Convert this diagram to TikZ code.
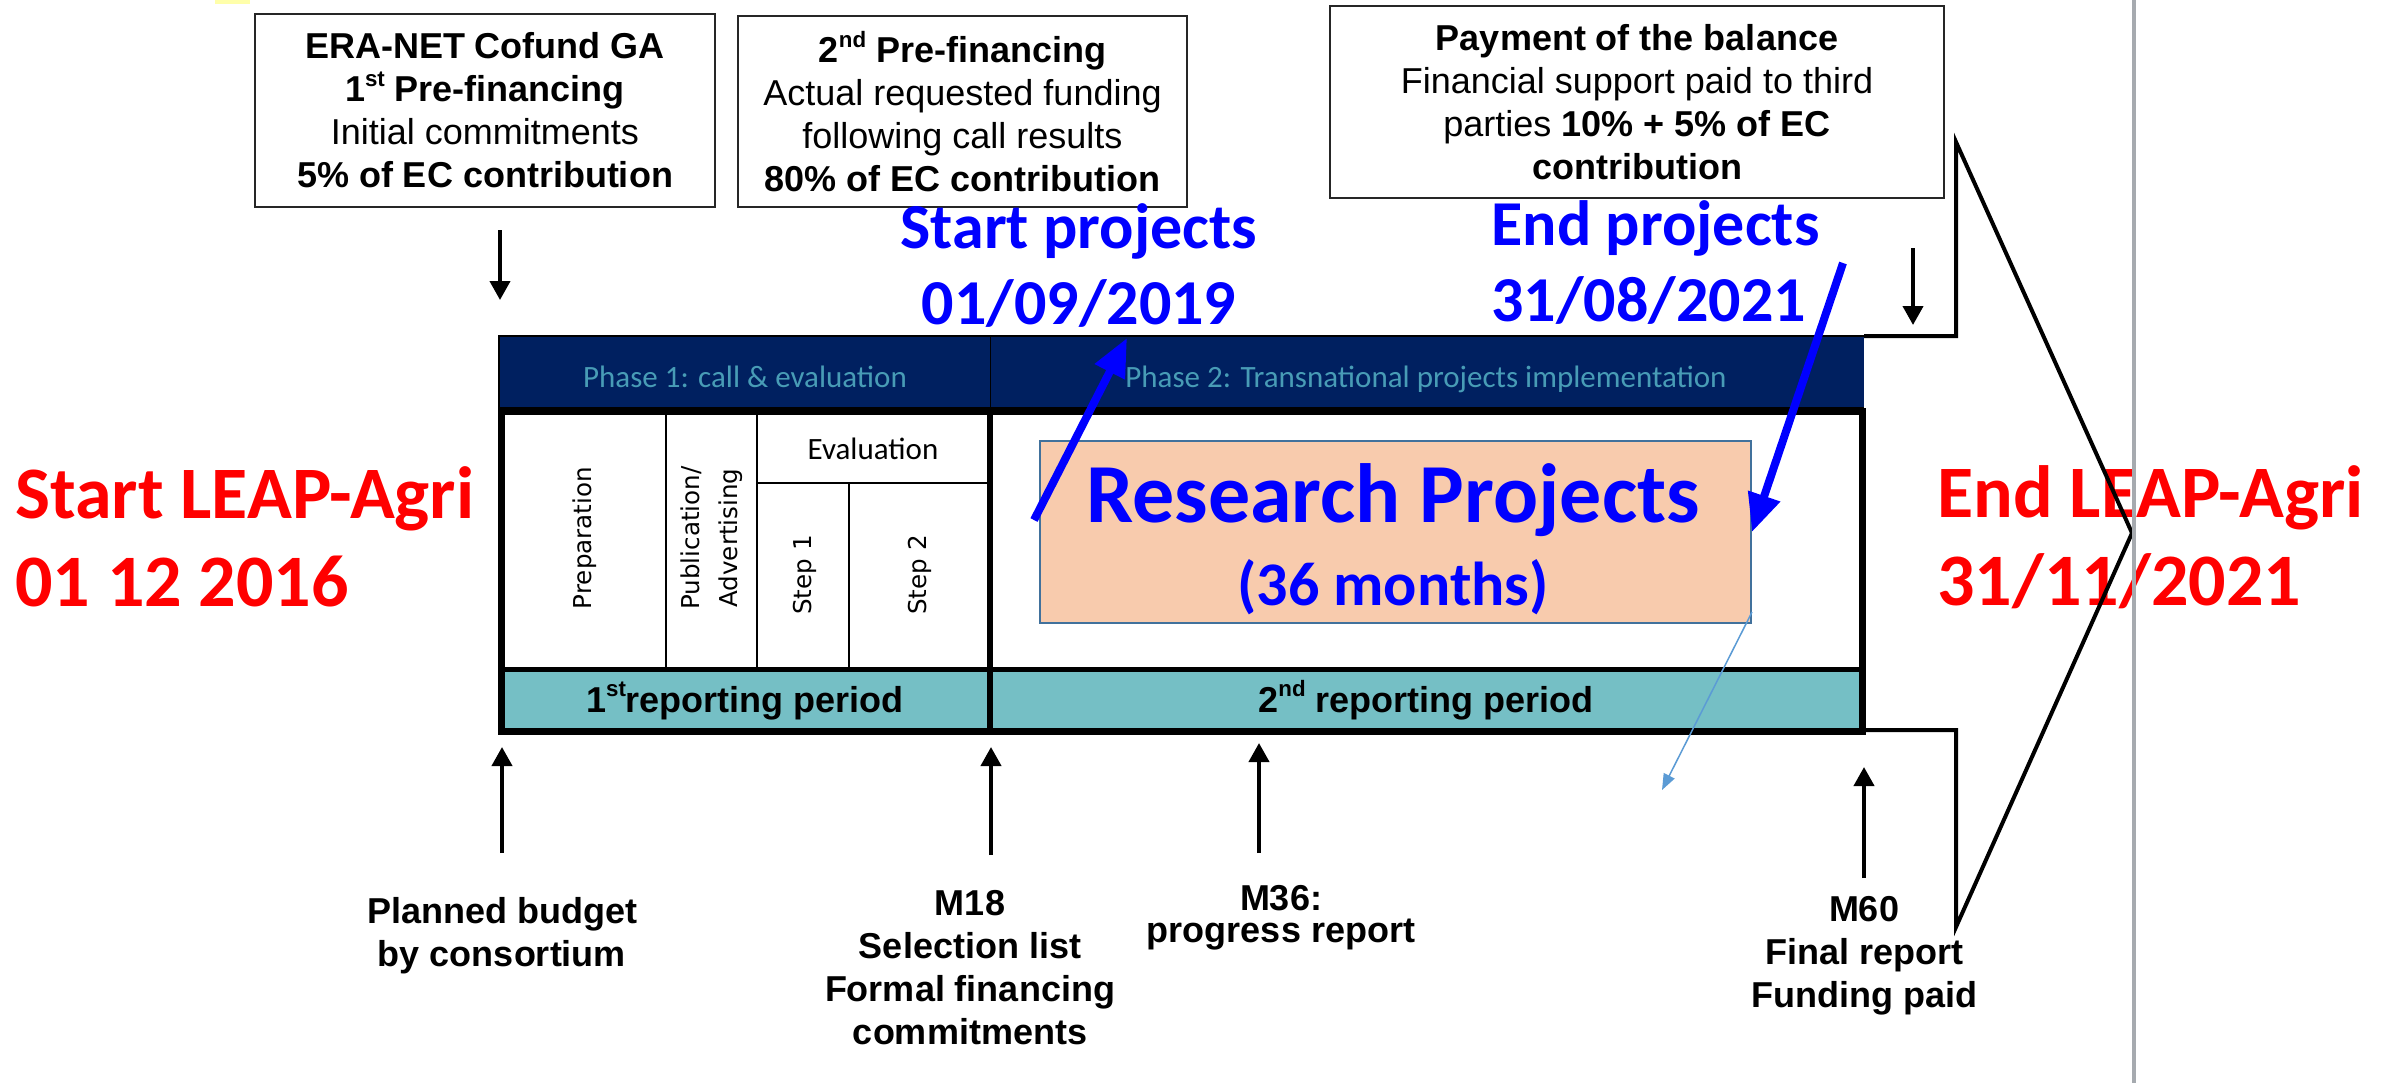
\documentclass[tikz,border=0pt]{standalone}
\usepackage{fontspec}
\setmainfont{Liberation Sans}
\newfontfamily\calfont{Carlito}
\newfontfamily\dvfont{DejaVu Sans}
\usetikzlibrary{arrows.meta}
\definecolor{navyhdr}{RGB}{0,32,96}
\definecolor{phasetxt}{RGB}{72,156,182}
\definecolor{bandfill}{RGB}{117,191,197}
\definecolor{peach}{RGB}{248,203,173}
\definecolor{peachedge}{RGB}{65,113,156}
\definecolor{thinblue}{RGB}{91,155,213}
\definecolor{greyline}{RGB}{166,170,175}
\definecolor{hlyellow}{RGB}{255,255,170}
\definecolor{redtxt}{RGB}{255,0,0}
\definecolor{bluetxt}{RGB}{0,0,255}
\newcommand\sups[1]{\raisebox{0.42em}{\scalebox{0.62}{#1}}}
\begin{document}
\begin{tikzpicture}[x=0.5pt,y=-0.5pt,
  infobox/.style={draw=black!85, line width=1pt, fill=white, align=center, inner sep=0pt, font=\fontsize{18}{21.5}\selectfont},
  blacklabel/.style={align=center, inner sep=0pt, font=\fontsize{18}{21.5}\selectfont\bfseries},
  redlabel/.style={align=left, inner sep=0pt, text=redtxt, font=\calfont\fontsize{37}{44}\selectfont\bfseries},
  bluelabel/.style={inner sep=0pt, text=bluetxt, font=\calfont\fontsize{32}{38}\selectfont\bfseries},
  phaselabel/.style={inner sep=0pt, text=phasetxt, font=\calfont\fontsize{15.5}{18}\selectfont},
  rotlabel/.style={rotate=90, align=center, inner sep=0pt, font=\dvfont\fontsize{12.3}{19}\selectfont},
  replabel/.style={inner sep=0pt, font=\fontsize{18}{21.5}\selectfont\bfseries},
  milestone/.style={-{Triangle[length=9.5pt,width=10pt]}, line width=2pt},
  bluearrow/.style={-{Triangle[length=19pt,width=16pt]}, line width=4pt, bluetxt},
  thinarrow/.style={-{Triangle[length=8pt,width=6pt]}, line width=0.75pt, thinblue},
  thinrule/.style={line width=1pt},
]
\useasboundingbox (0,0) rectangle (2397,1083);
\fill[white] (0,0) rectangle (2397,1083);
\fill[hlyellow] (215,0) rectangle (250,4);

% red labels
\node[redlabel, anchor=west] (startleap) at (15,537) {Start LEAP-Agri\\01 12 2016};
\node[redlabel, anchor=west] (endleap) at (1937,537) {End LEAP-Agri\\31/11/2021};

% top info boxes
\node[infobox, minimum width=230pt, minimum height=96.5pt] (box1) at (485,110.5)
  {\textbf{ERA-NET Cofund GA}\\\textbf{1\sups{st} Pre-financing}\\Initial commitments\\\textbf{5\% of EC contribution}};
\node[infobox, minimum width=224.5pt, minimum height=95.5pt] (box2) at (962.5,111.5)
  {\textbf{2\sups{nd} Pre-financing}\\Actual requested funding\\following call results\\\textbf{80\% of EC contribution}};
\node[infobox, minimum width=307pt, minimum height=96pt] (box3) at (1637,102)
  {\textbf{Payment of the balance}\\Financial support paid to third\\parties \textbf{10\% + 5\% of EC}\\\textbf{contribution}};

% table header
\fill[navyhdr] (499,336) rectangle (1864,408);
\draw[line width=0.75pt] (499,408) -- (499,336) -- (1864,336);
\draw[line width=0.5pt] (990,336) -- (990,408);
% table body
\fill[white] (501.5,411) rectangle (1862,731.5);
\fill[bandfill] (501.5,670) rectangle (1862,731.5);
\draw[thinrule] (666,411) -- (666,670);
\draw[thinrule] (757,411) -- (757,670);
\draw[thinrule] (757,483) -- (990,483);
\draw[thinrule] (849,483) -- (849,670);
\draw[line width=3.5pt] (501.5,411) rectangle (1862,731.5);
\draw[line width=4pt] (499,411) -- (1864,411);
\draw[line width=2.5pt] (501.5,669.5) -- (1862,669.5);
\draw[line width=3pt] (990,411) -- (990,731.5);

% table texts
\node[phaselabel, anchor=base] (ph1) at (745,387) {Phase 1: call \& evaluation};
\node[phaselabel, anchor=base] (ph2) at (1426,387) {Phase 2: Transnational projects implementation};
\node[rotlabel] (prep) at (585,538) {Preparation};
\node[rotlabel] (pub) at (712,538) {Publication/\\Advertising};
\node[inner sep=0pt, anchor=base, font=\calfont\fontsize{15.5}{18}\selectfont] (evalt) at (873,459) {Evaluation};
\node[rotlabel] (st1) at (805,575) {Step 1};
\node[rotlabel] (st2) at (920,575) {Step 2};
\node[replabel, anchor=base] (rep1) at (745,712) {1\sups{st}reporting period};
\node[replabel, anchor=base] (rep2) at (1426,712) {2\sups{nd} reporting period};

% research projects
\node[fill=peach, draw=peachedge, line width=1pt, minimum width=355.5pt, minimum height=91pt, inner sep=0pt] (research) at (1395.5,532) {};
\node[inner sep=0pt, anchor=base, text=bluetxt, font=\calfont\fontsize{42}{50}\selectfont\bfseries] (rptitle) at (1393,522) {Research Projects};
\node[inner sep=0pt, anchor=base, text=bluetxt, font=\calfont\fontsize{31}{36}\selectfont\bfseries] (rpmonths) at (1393,605) {(36 months)};

% blue labels
\node[bluelabel, align=center] (startproj) at (1079,265) {Start projects\\01/09/2019};
\node[bluelabel, align=left, anchor=west] (endproj) at (1491,262) {End projects\\31/08/2021};

% bottom labels
\node[blacklabel] (planned) at (502,936) {Planned budget\\by consortium};
\node[blacklabel] (m18) at (970,968) {M18\\Selection list\\Formal financing\\commitments};
\node[blacklabel, font=\fontsize{18}{16}\selectfont\bfseries] (m36) at (1281,918) {M36:\\progress report};
\node[blacklabel] (m60) at (1864,956) {M60\\Final report\\Funding paid};

% connector end points
\coordinate (d1a) at (500,230);
\coordinate (d1b) at (500,300);
\coordinate (d2a) at (1913,248);
\coordinate (d2b) at (1913,325);
\coordinate (u1a) at (502,853);
\coordinate (u1b) at (502,747);
\coordinate (u2a) at (991,855);
\coordinate (u2b) at (991,747);
\coordinate (u3a) at (1259,853);
\coordinate (u3b) at (1259,743);
\coordinate (u4a) at (1864,878);
\coordinate (u4b) at (1864,767);
\coordinate (sa2) at (1127,338);
\coordinate (ea1) at (1843,263);
\coordinate (ta2) at (1662,790);

\draw[milestone] (d1a) -- (d1b);
\draw[milestone] (d2a) -- (d2b);
\draw[milestone] (u1a) -- (u1b);
\draw[milestone] (u2a) -- (u2b);
\draw[milestone] (u3a) -- (u3b);
\draw[milestone] (u4a) -- (u4b);

\draw[bluearrow] ([xshift=-2.5pt,yshift=6pt]research.west) -- (sa2);
\draw[bluearrow] (ea1) -- (research.east);
\draw[thinarrow] ([yshift=6pt]research.south east) -- (ta2);

% block arrow outline
\draw[line width=2pt, line join=miter] (1864,336) -- (1956,336) -- (1956,142) -- (2132,533) -- (1956,927) -- (1956,730) -- (1864,730);
% grey separator
\draw[greyline, line width=2pt] (2134,0) -- (2134,1083);
\end{tikzpicture}
\end{document}
